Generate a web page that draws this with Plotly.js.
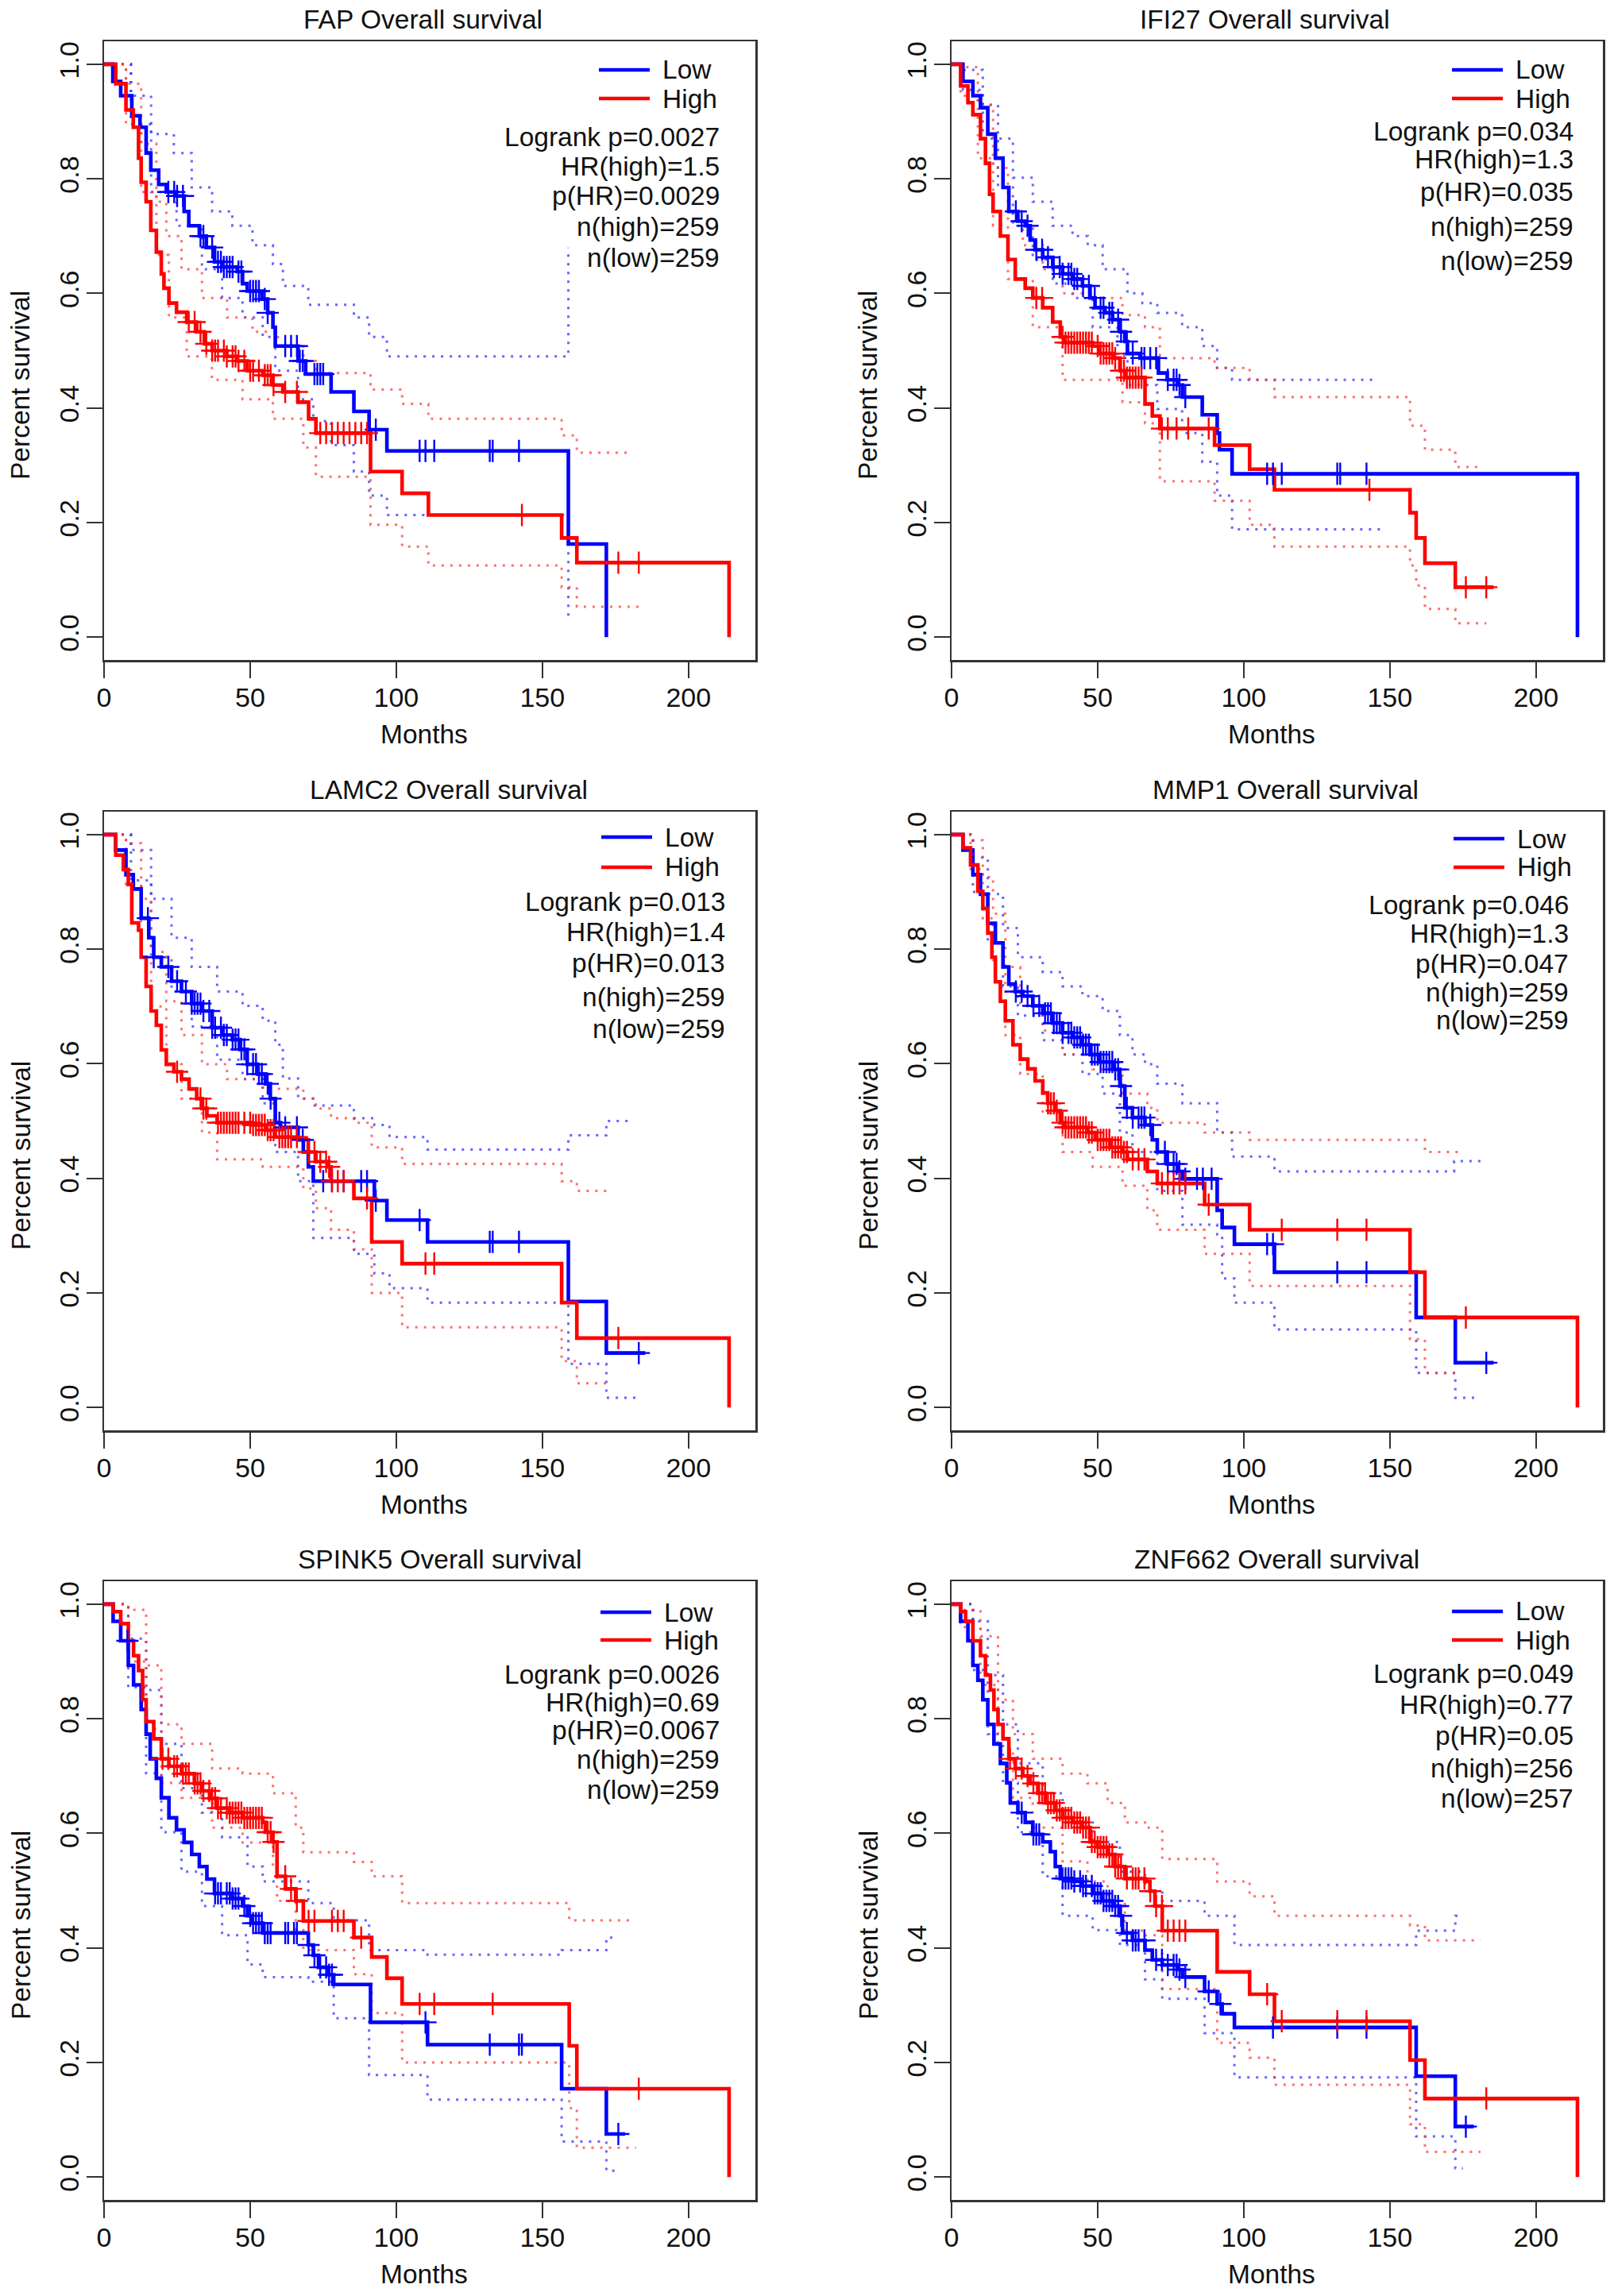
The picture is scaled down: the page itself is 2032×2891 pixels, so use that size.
<!DOCTYPE html>
<html><head><meta charset="utf-8">
<script src="https://cdn.plot.ly/plotly-3.0.1.min.js"></script>
<style>html,body{margin:0;padding:0;background:#fff;overflow:hidden}#chart{width:2032px;height:2891px}</style>
</head><body><div id="chart"></div>
<script>
// ---------------- DATA ----------------
const genes = ['FAP','IFI27','LAMC2','MMP1','SPINK5','ZNF662'];
const groupNames = ['Low','High'];
const xTicks = [0,50,100,150,200];
const yTicks = [0,0.2,0.4,0.6,0.8,1.0];

// FAP
const FAP_low = [[0,1],[3,0.97],[5.7,0.945],[9.5,0.91],[12.3,0.89],[14.4,0.845],[16,0.815],[18.7,0.79],[21.3,0.777],[24.8,0.77],[27.4,0.743],[29,0.718],[32.6,0.70],[35,0.68],[37.8,0.655],[40.4,0.646],[45.6,0.638],[47.4,0.617],[49,0.604],[54,0.59],[56,0.566],[57.8,0.541],[58.6,0.508],[66.4,0.482],[69,0.459],[77.7,0.428],[85.5,0.394],[90.7,0.362],[96.8,0.325],[158.9,0.1625],[171.9,0]];
const FAP_high = [[0,1],[4,0.966],[7.5,0.92],[10,0.89],[11.8,0.836],[12.7,0.794],[14.4,0.76],[16,0.71],[17.9,0.672],[19.6,0.634],[20.5,0.609],[22.2,0.583],[24.8,0.567],[28.3,0.55],[31.7,0.533],[34.3,0.512],[37,0.50],[42,0.49],[45.6,0.482],[49,0.465],[54.3,0.457],[57.8,0.44],[61.2,0.428],[66.4,0.41],[70,0.381],[72.5,0.356],[91.2,0.289],[102,0.251],[111,0.213],[156.6,0.173],[161.8,0.13],[213.9,0]];
const FAP_low_up = [[0,1],[9.2,0.945],[16.1,0.878],[23.9,0.845],[30,0.785],[37,0.743],[43.9,0.718],[50.8,0.684],[57.8,0.651],[61.2,0.613],[69.9,0.58],[85.5,0.558],[90.7,0.524],[96.8,0.49],[158.9,0.68]];
const FAP_low_lo = [[0,1],[9.2,0.895],[16.1,0.777],[24.8,0.718],[33.5,0.642],[40.4,0.592],[47.4,0.558],[54.3,0.524],[58.6,0.465],[66.4,0.415],[71.6,0.377],[77.7,0.335],[85.5,0.289],[90.7,0.247],[96.8,0.213],[158.9,0.036]];
const FAP_high_up = [[0,1],[7.5,0.966],[12.7,0.861],[17.9,0.76],[21.3,0.70],[26.5,0.642],[33.5,0.592],[42.1,0.558],[50.8,0.533],[59.5,0.508],[68.2,0.482],[72.5,0.461],[91.2,0.432],[102,0.407],[111,0.381],[156.6,0.352],[161.8,0.322],[181,0.322]];
const FAP_high_lo = [[0,1],[7.5,0.895],[12.7,0.777],[17.9,0.667],[22.2,0.558],[28.3,0.49],[36.9,0.449],[47.4,0.415],[57.8,0.381],[68.2,0.331],[72.5,0.28],[91.2,0.196],[102,0.158],[111,0.125],[156.6,0.087],[161.8,0.053],[183,0.053]];
const FAP_low_cens = [22,24,25,27,33,34,37,39,40,41,42,43,44,46,47,50,51,52,53,55,56,62,64,66,67,68,72,73,74,75,93,108,110,113,132,133,142];
const FAP_high_cens = [29,31,33,35,37,38,39,41,42,44,45,46,48,50,51,53,55,56,57,58,62,66,74,76,78,80,82,84,86,88,90,143,176,183];
const FAP_stats = ['Logrank p=0.0027','HR(high)=1.5','p(HR)=0.0029','n(high)=259','n(low)=259'];

// IFI27
const IFI27_low = [[0,1],[3.9,0.97],[7.3,0.945],[9.9,0.924],[12.4,0.878],[15,0.836],[17.6,0.785],[19.6,0.743],[22.7,0.726],[25.2,0.718],[26.9,0.693],[28.6,0.676],[31.2,0.663],[34.6,0.646],[38,0.634],[41.4,0.625],[44.8,0.613],[47.4,0.592],[49.1,0.575],[52.5,0.566],[55.1,0.554],[57.6,0.533],[59.3,0.516],[60.2,0.495],[64.5,0.487],[70.8,0.461],[73.8,0.449],[77.2,0.44],[79,0.419],[85.8,0.388],[90.9,0.356],[91.7,0.327],[96,0.285],[214.2,0]];
const IFI27_high = [[0,1],[3.1,0.962],[5.6,0.933],[7.3,0.912],[9.9,0.87],[11.6,0.827],[13,0.773],[14.2,0.743],[16.7,0.70],[19.3,0.659],[21.8,0.625],[25.2,0.609],[27.8,0.592],[31.2,0.575],[34.6,0.55],[37.2,0.524],[38.9,0.514],[48.3,0.508],[50.8,0.495],[55.1,0.487],[57.6,0.465],[59.3,0.453],[66.2,0.407],[68.7,0.386],[71.3,0.364],[90,0.335],[102,0.293],[110.5,0.257],[156.9,0.217],[159,0.173],[162,0.129],[172.4,0.087],[185.5,0.087]];
const IFI27_low_up = [[0,1],[3.9,0.99],[10.7,0.929],[15.9,0.87],[21,0.802],[27.8,0.76],[34.6,0.718],[41.4,0.70],[46.6,0.684],[51.7,0.642],[60.2,0.60],[65.3,0.583],[70.4,0.566],[78.9,0.541],[85.8,0.508],[90.9,0.47],[96,0.449],[145,0.449]];
const IFI27_low_lo = [[0,1],[3.9,0.955],[10.7,0.87],[15.9,0.785],[21,0.718],[27.8,0.659],[34.6,0.617],[41.4,0.592],[48.3,0.541],[56.8,0.491],[60.2,0.44],[70.4,0.398],[78.9,0.356],[85.8,0.306],[90.9,0.247],[96,0.188],[147,0.188]];
const IFI27_high_up = [[0,1],[3.1,0.995],[9,0.929],[14.2,0.819],[19.3,0.726],[24.4,0.684],[31.2,0.642],[38,0.60],[48.3,0.592],[58.5,0.562],[66.2,0.541],[71.3,0.487],[90,0.47],[102,0.449],[110.5,0.419],[156.9,0.369],[162,0.327],[172.4,0.297],[182,0.297]];
const IFI27_high_lo = [[0,1],[3.1,0.945],[9,0.836],[14.2,0.718],[19.3,0.625],[27.8,0.541],[38,0.449],[58.5,0.41],[66.2,0.373],[71.3,0.272],[90,0.238],[102,0.196],[110.5,0.158],[156.9,0.125],[159,0.09],[162,0.049],[172.4,0.024],[183,0.024]];
const IFI27_low_cens = [22,24,26,29,31,33,35,37,38,40,41,42,43,45,47,49,51,52,54,55,57,58,60,62,65,66,68,70,74,76,77,78,80,108,110,113,132,133,142];
const IFI27_high_cens = [29,31,38,39,40,41,42,43,44,45,46,47,48,50,51,52,53,54,55,56,58,59,60,61,62,63,64,65,72,74,77,81,88,143,176,183];
const IFI27_stats = ['Logrank p=0.034','HR(high)=1.3','p(HR)=0.035','n(high)=259','n(low)=259'];

// LAMC2
const LAMC2_low = [[0,1],[4,0.973],[7.5,0.93],[10,0.905],[12.7,0.854],[15.3,0.82],[17,0.786],[19.6,0.769],[23.1,0.744],[26.5,0.726],[30,0.705],[33.5,0.692],[37,0.663],[40.4,0.65],[43.9,0.642],[46.5,0.625],[49,0.599],[52.6,0.582],[55.2,0.565],[56.9,0.539],[58.6,0.497],[60.4,0.489],[66.4,0.467],[68.2,0.446],[69.9,0.42],[71.6,0.395],[92.5,0.361],[96.8,0.327],[110.7,0.289],[158.9,0.185],[171.9,0.095],[185.2,0.095]];
const LAMC2_high = [[0,1],[4,0.964],[6.6,0.939],[8.3,0.913],[9.5,0.846],[11.8,0.833],[12.7,0.786],[14.4,0.735],[16.1,0.692],[17.9,0.667],[19.6,0.624],[21.3,0.599],[23.9,0.586],[26.5,0.573],[29.1,0.556],[31.7,0.539],[33.5,0.522],[35.2,0.509],[38.7,0.497],[50.8,0.493],[55.2,0.484],[58.6,0.472],[66.4,0.467],[69.9,0.446],[72.5,0.429],[76.8,0.42],[77.7,0.395],[85.5,0.365],[91.6,0.289],[102,0.251],[156.6,0.183],[161.8,0.121],[213.9,0]];
const LAMC2_low_up = [[0,1],[9.2,0.973],[16.1,0.888],[23.1,0.82],[30,0.769],[38.7,0.726],[47.4,0.701],[54.3,0.675],[58.6,0.633],[61.2,0.574],[66.4,0.539],[71.6,0.527],[85.5,0.505],[92.5,0.493],[97.7,0.472],[110.7,0.45],[158.9,0.475],[171.9,0.50],[181,0.50]];
const LAMC2_low_lo = [[0,1],[9.2,0.92],[16.1,0.786],[23.1,0.726],[30,0.665],[38.7,0.607],[47.4,0.573],[54.3,0.531],[58.6,0.446],[66.4,0.395],[71.6,0.296],[85.5,0.268],[92.5,0.234],[97.7,0.208],[110.7,0.183],[158.9,0.076],[171.9,0.017],[182,0.017]];
const LAMC2_high_up = [[0,1],[7.5,0.985],[12.7,0.888],[16.1,0.795],[21.3,0.709],[26.5,0.65],[33.5,0.599],[42.1,0.573],[54.3,0.556],[68.2,0.539],[72.5,0.522],[77.7,0.505],[85.5,0.497],[91.6,0.454],[102,0.425],[156.6,0.395],[161.8,0.378],[174,0.378]];
const LAMC2_high_lo = [[0,1],[7.5,0.913],[12.7,0.786],[16.1,0.70],[21.3,0.599],[26.5,0.539],[33.5,0.48],[38.7,0.433],[54.3,0.42],[68.2,0.382],[72.5,0.348],[77.7,0.31],[85.5,0.276],[91.6,0.2],[102,0.14],[156.6,0.081],[161.8,0.042],[174,0.042]];
const LAMC2_low_cens = [15,17,22,25,28,30,31,32,33,34,36,37,38,40,41,42,44,45,46,47,48,49,51,52,53,54,56,57,60,62,66,68,75,78,82,88,90,93,108,132,133,142,183];
const LAMC2_high_cens = [25,33,34,35,39,40,41,42,43,44,45,46,48,50,51,52,53,54,55,56,57,58,60,61,62,63,64,66,70,72,74,76,77,78,80,82,90,110,113,176];
const LAMC2_stats = ['Logrank p=0.013','HR(high)=1.4','p(HR)=0.013','n(high)=259','n(low)=259'];

// MMP1
const MMP1_low = [[0,1],[3.9,0.973],[7.3,0.93],[9.9,0.896],[12.4,0.845],[15,0.811],[17.6,0.769],[19.6,0.739],[21.8,0.726],[24.4,0.718],[27.8,0.701],[31.2,0.688],[34.6,0.671],[38,0.654],[41.4,0.646],[44.8,0.633],[47.4,0.616],[50.8,0.603],[55.1,0.59],[57.6,0.561],[59.3,0.523],[61.9,0.506],[66.2,0.493],[68.7,0.467],[70.4,0.446],[73.8,0.425],[77.2,0.412],[79,0.399],[90.9,0.344],[92.6,0.314],[96.8,0.285],[110.5,0.236],[159,0.157],[172.4,0.078],[185.5,0.078]];
const MMP1_high = [[0,1],[3.9,0.977],[6.5,0.947],[9,0.901],[10.7,0.871],[12.4,0.828],[13.8,0.786],[15,0.743],[16.7,0.709],[18.4,0.675],[21,0.633],[23.5,0.608],[26.1,0.591],[28.6,0.57],[31.2,0.549],[32.9,0.531],[35.5,0.518],[37.2,0.497],[38.9,0.489],[46.5,0.48],[49.1,0.467],[54.2,0.454],[58.5,0.446],[60.2,0.433],[67,0.412],[70.4,0.391],[86.6,0.354],[102,0.31],[156.9,0.236],[162,0.157],[214.2,0]];
const MMP1_low_up = [[0,1],[7.3,0.96],[12.4,0.896],[17.6,0.837],[22.7,0.786],[31.2,0.76],[38,0.735],[44.8,0.718],[51.7,0.692],[57.6,0.65],[61.9,0.616],[66.2,0.599],[70.4,0.565],[79,0.531],[90.9,0.48],[96,0.438],[110.5,0.412],[172,0.43],[181,0.43]];
const MMP1_low_lo = [[0,1],[7.3,0.90],[12.4,0.811],[17.6,0.735],[22.7,0.684],[31.2,0.641],[38,0.616],[44.8,0.582],[51.7,0.548],[57.6,0.48],[61.9,0.446],[70.4,0.378],[79,0.319],[90.9,0.302],[92.6,0.225],[96.8,0.183],[110.5,0.136],[159,0.06],[172.4,0.017],[181,0.017]];
const MMP1_high_up = [[0,1],[6.5,0.99],[10.7,0.926],[14.2,0.862],[18.4,0.769],[23.5,0.701],[31.2,0.658],[38,0.616],[48.3,0.59],[58.5,0.548],[67,0.523],[70.4,0.497],[86.6,0.48],[102,0.467],[162,0.446],[175.3,0.446]];
const MMP1_high_lo = [[0,1],[6.5,0.94],[10.7,0.854],[14.2,0.769],[18.4,0.65],[23.5,0.582],[31.2,0.514],[38,0.446],[48.3,0.42],[58.5,0.387],[67,0.344],[70.4,0.31],[86.6,0.268],[102,0.212],[156.9,0.119],[162,0.06],[174,0.06]];
const MMP1_low_cens = [22,24,26,28,30,32,33,34,35,36,37,38,40,41,42,43,44,45,46,47,48,49,50,51,52,53,54,55,56,57,58,60,62,64,65,66,68,73,74,76,77,78,80,84,86,89,108,110,132,142,183];
const MMP1_high_cens = [33,34,35,36,38,39,40,41,42,43,44,45,46,47,48,50,51,52,53,54,55,56,57,58,59,60,62,64,66,72,74,76,78,80,88,113,132,142,176];
const MMP1_stats = ['Logrank p=0.046','HR(high)=1.3','p(HR)=0.047','n(high)=259','n(low)=259'];

// SPINK5
const SPINK5_low = [[0,1],[3.1,0.97],[5.7,0.936],[8.3,0.893],[10.1,0.859],[12.7,0.816],[14.4,0.773],[15.8,0.73],[17.9,0.696],[19.6,0.662],[22.2,0.627],[24.8,0.606],[27.4,0.584],[30,0.563],[32.6,0.542],[35.2,0.52],[37.8,0.495],[43.9,0.486],[47.4,0.473],[49.1,0.456],[50.8,0.443],[54.3,0.426],[69.9,0.405],[71.6,0.387],[73.4,0.366],[76.8,0.353],[78.6,0.336],[91.2,0.27],[110.7,0.231],[156.6,0.154],[171.9,0.075],[178.3,0.075]];
const SPINK5_high = [[0,1],[3.1,0.987],[5.7,0.966],[8.3,0.936],[10.1,0.91],[11.8,0.884],[13.2,0.833],[14.4,0.795],[17,0.765],[19.6,0.73],[22.2,0.717],[26.5,0.704],[30.9,0.687],[33.5,0.674],[36.1,0.661],[38.7,0.644],[43,0.636],[47.4,0.627],[54.3,0.619],[55.2,0.602],[57.8,0.585],[59.2,0.525],[62.1,0.503],[65.6,0.482],[68.2,0.447],[85.5,0.418],[91.6,0.384],[96.8,0.347],[102,0.302],[159.2,0.229],[161.8,0.154],[213.9,0]];
const SPINK5_low_up = [[0,1],[8.3,0.94],[14.4,0.85],[19.6,0.756],[26.5,0.679],[33.5,0.636],[40.4,0.593],[49.1,0.542],[54.3,0.516],[69.9,0.478],[78.6,0.448],[90.7,0.396],[110.7,0.388],[156.6,0.396],[171.9,0.418],[174,0.418]];
const SPINK5_low_lo = [[0,1],[8.3,0.855],[14.4,0.705],[19.6,0.602],[26.5,0.533],[33.5,0.473],[40.4,0.422],[49.1,0.371],[54.3,0.349],[69.9,0.341],[78.6,0.277],[90.7,0.178],[110.7,0.135],[156.6,0.062],[171.9,0.011],[175,0.011]];
const SPINK5_high_up = [[0,1],[8.3,0.99],[14.4,0.893],[19.6,0.79],[26.5,0.756],[37,0.713],[47.4,0.704],[57.8,0.67],[65.6,0.61],[68.2,0.567],[85.5,0.55],[91.6,0.525],[102,0.478],[159.2,0.448],[181,0.448]];
const SPINK5_high_lo = [[0,1],[8.3,0.90],[14.4,0.782],[19.6,0.688],[26.5,0.662],[37,0.61],[47.4,0.584],[57.8,0.542],[59.2,0.482],[65.6,0.431],[68.2,0.396],[85.5,0.354],[91.6,0.286],[102,0.2],[159.2,0.12],[161.8,0.051],[182,0.051]];
const SPINK5_low_cens = [8,38,39,40,42,43,44,45,46,48,50,51,52,53,54,55,56,57,62,63,65,66,70,72,74,76,77,78,110,132,142,143,176];
const SPINK5_high_cens = [20,22,24,25,27,28,29,31,32,33,34,36,37,38,39,40,42,43,44,45,46,47,48,49,50,51,52,53,54,56,57,58,62,64,66,70,72,78,80,82,88,108,113,133,183];
const SPINK5_stats = ['Logrank p=0.0026','HR(high)=0.69','p(HR)=0.0067','n(high)=259','n(low)=259'];

// ZNF662
const ZNF662_low = [[0,1],[3.1,0.97],[5.6,0.936],[7.3,0.893],[9,0.867],[10.7,0.833],[12.4,0.79],[14.5,0.756],[16.7,0.722],[18.9,0.688],[20.1,0.653],[22.7,0.636],[25.2,0.619],[27.8,0.598],[31.2,0.585],[33.8,0.568],[35.5,0.542],[37.2,0.521],[41.4,0.516],[44.8,0.508],[48.3,0.495],[51.7,0.482],[55.1,0.473],[57.6,0.456],[58.5,0.426],[61.9,0.413],[66.2,0.396],[68.7,0.379],[72.1,0.37],[77.2,0.362],[79,0.349],[86.6,0.324],[90.9,0.302],[92.6,0.285],[96.8,0.261],[159,0.176],[172.4,0.088],[178.7,0.088]];
const ZNF662_high = [[0,1],[3.1,0.987],[4.8,0.97],[7.3,0.936],[9.9,0.91],[11.6,0.876],[13.3,0.85],[14.5,0.816],[15.9,0.79],[17.6,0.765],[19.6,0.73],[21.8,0.713],[24.4,0.70],[26.9,0.687],[29.5,0.67],[32.1,0.653],[35.5,0.64],[38,0.627],[41.4,0.619],[44.8,0.61],[47.4,0.585],[50,0.576],[53.4,0.563],[55.9,0.542],[59.3,0.521],[66.2,0.516],[67.9,0.499],[69.6,0.473],[72.1,0.43],[90.9,0.358],[102,0.319],[110.5,0.272],[156.9,0.204],[162,0.137],[214.2,0]];
const ZNF662_low_up = [[0,1],[7.3,0.97],[12.4,0.876],[17.6,0.79],[22.7,0.722],[31.2,0.67],[38,0.619],[48.3,0.585],[57.6,0.533],[66.2,0.499],[72.1,0.482],[86.6,0.456],[96.8,0.405],[159,0.43],[172.4,0.456],[174.5,0.456]];
const ZNF662_low_lo = [[0,1],[7.3,0.885],[12.4,0.773],[17.6,0.688],[22.7,0.602],[31.2,0.525],[38,0.456],[48.3,0.431],[57.6,0.405],[66.2,0.345],[72.1,0.311],[86.6,0.251],[96.8,0.174],[159,0.071],[172.4,0.015],[175,0.015]];
const ZNF662_high_up = [[0,1],[3.1,0.99],[9.9,0.944],[15.9,0.833],[21,0.773],[27.8,0.73],[38,0.704],[46.5,0.687],[53.4,0.653],[59.3,0.619],[66.2,0.61],[72.1,0.555],[90.9,0.516],[102,0.49],[110.5,0.456],[156.9,0.439],[162,0.413],[181,0.413]];
const ZNF662_high_lo = [[0,1],[3.1,0.96],[9.9,0.859],[15.9,0.748],[21,0.662],[27.8,0.61],[38,0.551],[46.5,0.516],[53.4,0.482],[59.3,0.43],[66.2,0.422],[72.1,0.328],[90.9,0.234],[102,0.208],[110.5,0.161],[156.9,0.092],[162,0.044],[181,0.044]];
const ZNF662_low_cens = [24,28,29,30,38,39,40,41,42,44,45,46,48,49,50,51,52,53,54,55,56,57,58,60,62,63,64,66,70,72,74,76,77,78,80,88,92,110,132,142,176];
const ZNF662_high_cens = [20,22,24,26,28,30,31,32,33,34,35,36,37,38,39,40,41,42,43,44,45,46,47,48,49,50,51,52,53,54,55,56,57,58,60,62,63,64,66,68,70,72,74,76,78,80,108,113,132,142,183];
const ZNF662_stats = ['Logrank p=0.049','HR(high)=0.77','p(HR)=0.05','n(high)=256','n(low)=257'];

// ---------------- LAYOUT CONFIG (pixels) ----------------
const W = 2032, H = 2891;
const BOX_W = 820, BOX_H = 779;
const COL_L = [131, 1198];
const ROW_T = [52, 1022, 1991];
const XMAX = 222.9, YMIN = -0.04, YMAX = 1.04;
const FONT = 'Liberation Sans, Arial, Helvetica, sans-serif';
const TXT = '#111';
const BLUE = '#0000ff', RED = '#ff0000';
const TXT_SIZE = 33.5, TICK_SIZE = 34;

const panels = [
  {gene:'FAP', low:FAP_low, high:FAP_high, lu:FAP_low_up, ll:FAP_low_lo, hu:FAP_high_up, hl:FAP_high_lo, lc:FAP_low_cens, hc:FAP_high_cens, stats:FAP_stats,
   col:0,row:0,titleX:532,statRight:908,statY:[173,210,246,285,325],legX:754,legY:[88,124]},
  {gene:'IFI27', low:IFI27_low, high:IFI27_high, lu:IFI27_low_up, ll:IFI27_low_lo, hu:IFI27_high_up, hl:IFI27_high_lo, lc:IFI27_low_cens, hc:IFI27_high_cens, stats:IFI27_stats,
   col:1,row:0,titleX:1592,statRight:1983,statY:[165,200,242,286,329],legX:1828,legY:[88,124]},
  {gene:'LAMC2', low:LAMC2_low, high:LAMC2_high, lu:LAMC2_low_up, ll:LAMC2_low_lo, hu:LAMC2_high_up, hl:LAMC2_high_lo, lc:LAMC2_low_cens, hc:LAMC2_high_cens, stats:LAMC2_stats,
   col:0,row:1,titleX:565,statRight:915,statY:[1135,1173,1212,1255,1296],legX:757,legY:[1054,1092]},
  {gene:'MMP1', low:MMP1_low, high:MMP1_high, lu:MMP1_low_up, ll:MMP1_low_lo, hu:MMP1_high_up, hl:MMP1_high_lo, lc:MMP1_low_cens, hc:MMP1_high_cens, stats:MMP1_stats,
   col:1,row:1,titleX:1618,statRight:1977,statY:[1140,1175,1213,1249,1285],legX:1830,legY:[1056,1092]},
  {gene:'SPINK5', low:SPINK5_low, high:SPINK5_high, lu:SPINK5_low_up, ll:SPINK5_low_lo, hu:SPINK5_high_up, hl:SPINK5_high_lo, lc:SPINK5_low_cens, hc:SPINK5_high_cens, stats:SPINK5_stats,
   col:0,row:2,titleX:553,statRight:908,statY:[2108,2143,2178,2215,2253],legX:756,legY:[2030,2065]},
  {gene:'ZNF662', low:ZNF662_low, high:ZNF662_high, lu:ZNF662_low_up, ll:ZNF662_low_lo, hu:ZNF662_high_up, hl:ZNF662_high_lo, lc:ZNF662_low_cens, hc:ZNF662_high_cens, stats:ZNF662_stats,
   col:1,row:2,titleX:1607,statRight:1983,statY:[2107,2146,2185,2226,2264],legX:1828,legY:[2029,2065]}
];

const px = p => p / W;
const py = p => 1 - p / H;
function stepAt(curve, t) {
  let v = curve[0][1];
  for (const [tt, s] of curve) { if (tt <= t) v = s; else break; }
  return v;
}

const traces = [];
const layout = {
  width: W, height: H, margin: {l:0, r:0, t:0, b:0},
  paper_bgcolor: '#fff', plot_bgcolor: '#fff', showlegend: false,
  font: {family: FONT, color: TXT, size: TXT_SIZE},
  annotations: [], shapes: []
};

panels.forEach((p, i) => {
  const s = i === 0 ? '' : String(i + 1);
  const xa = 'x' + s, ya = 'y' + s;
  const L = COL_L[p.col], T = ROW_T[p.row];

  const ci = (arr, color) => ({
    type: 'scatter', mode: 'lines', x: arr.map(d => d[0]), y: arr.map(d => d[1]),
    xaxis: xa, yaxis: ya, showlegend: false, hoverinfo: 'skip',
    line: {shape: 'hv', color: color, width: 3, dash: '3px,8px'}
  });
  traces.push(ci(p.lu, 'rgba(50,50,255,0.75)'));
  traces.push(ci(p.ll, 'rgba(50,50,255,0.75)'));
  traces.push(ci(p.hu, 'rgba(255,50,50,0.7)'));
  traces.push(ci(p.hl, 'rgba(255,50,50,0.7)'));

  const main = (arr, color, name) => ({
    type: 'scatter', mode: 'lines', name: p.gene + ' ' + name,
    x: arr.map(d => d[0]), y: arr.map(d => d[1]), xaxis: xa, yaxis: ya,
    line: {shape: 'hv', color: color, width: 4.6}
  });
  const cens = (times, curve, color) => ({
    type: 'scatter', mode: 'markers', x: times, y: times.map(t => stepAt(curve, t)),
    xaxis: xa, yaxis: ya, showlegend: false, hoverinfo: 'skip',
    marker: {symbol: 'cross-thin', size: 20, color: color, line: {color: color, width: 2.4}}
  });
  traces.push(main(p.low, BLUE, groupNames[0]));
  traces.push(main(p.high, RED, groupNames[1]));
  traces.push(cens(p.lc, p.low, BLUE));
  traces.push(cens(p.hc, p.high, RED));

  const axCommon = {
    showline: true, mirror: true, linecolor: '#333', linewidth: 2.5,
    ticks: 'outside', ticklen: 20, tickwidth: 2.2, tickcolor: '#333',
    showgrid: false, zeroline: false, fixedrange: true,
    tickfont: {family: FONT, size: TICK_SIZE, color: TXT}
  };
  layout['xaxis' + s] = Object.assign({}, axCommon, {
    domain: [px(L), px(L + BOX_W)], anchor: ya, range: [0, XMAX],
    tickmode: 'array', tickvals: xTicks, ticktext: xTicks.map(String), ticklabelstandoff: -4
  });
  layout['yaxis' + s] = Object.assign({}, axCommon, {
    domain: [py(T + BOX_H), py(T)], anchor: xa, range: [YMIN, YMAX],
    tickmode: 'array', tickvals: yTicks, ticktext: yTicks.map(v => v.toFixed(1)), tickangle: -90,
    ticklabelstandoff: -4
  });

  // legend key (line + label) for this panel
  [BLUE, RED].forEach((c, k) => {
    layout.shapes.push({type:'line', xref:'paper', yref:'paper',
      x0: px(p.legX), x1: px(p.legX + 64), y0: py(p.legY[k]), y1: py(p.legY[k]),
      line: {color: c, width: 4.6}});
    layout.annotations.push({xref:'paper', yref:'paper', x: px(p.legX + 78), y: py(p.legY[k]),
      xanchor:'left', yanchor:'middle', text: groupNames[k], showarrow:false,
      font:{family:FONT, size:TXT_SIZE, color:TXT}});
  });

  const ann = layout.annotations;
  ann.push({xref:'paper', yref:'paper', x: px(p.titleX), y: py(T - 27), xanchor:'center', yanchor:'middle',
    text: p.gene + ' Overall survival', showarrow:false, font:{family:FONT, size:TXT_SIZE, color:TXT}});
  ann.push({xref:'paper', yref:'paper', x: px(L + BOX_W/2 - 7), y: py(T + BOX_H + 93), xanchor:'center', yanchor:'middle',
    text: 'Months', showarrow:false, font:{family:FONT, size:TXT_SIZE, color:TXT}});
  ann.push({xref:'paper', yref:'paper', x: px(L - 105), y: py(T + 433), xanchor:'center', yanchor:'middle',
    text: 'Percent survival', textangle:-90, showarrow:false, font:{family:FONT, size:TXT_SIZE, color:TXT}});
  p.stats.forEach((t, k) => {
    ann.push({xref:'paper', yref:'paper', x: px(p.statRight), y: py(p.statY[k]), xanchor:'right', yanchor:'middle',
      text: t, showarrow:false, font:{family:FONT, size:TXT_SIZE, color:TXT}});
  });
});

Plotly.newPlot('chart', traces, layout, {displayModeBar:false, staticPlot:true});
</script>
</body></html>
